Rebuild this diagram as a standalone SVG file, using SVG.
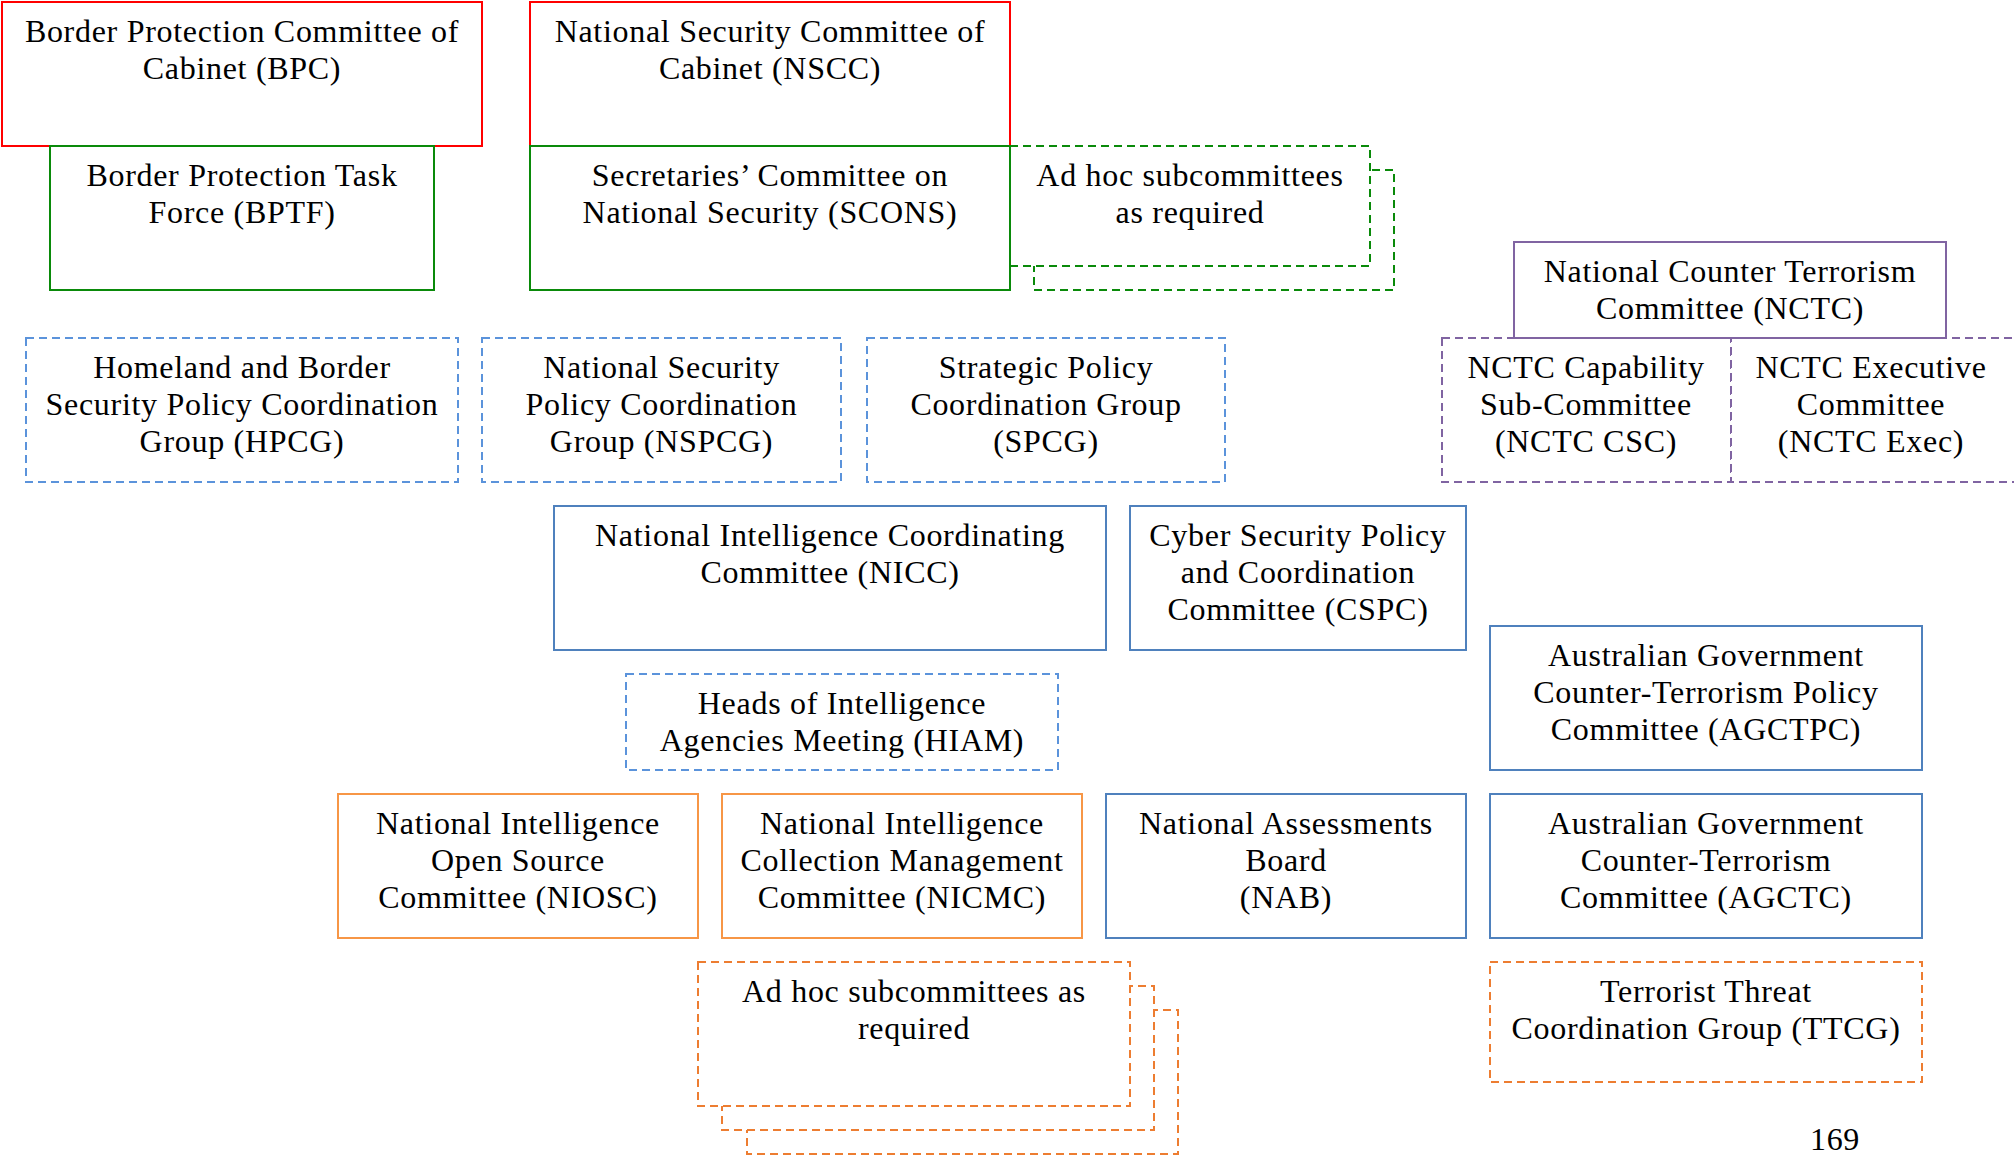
<svg xmlns="http://www.w3.org/2000/svg" width="2014" height="1155" viewBox="0 0 2014 1155">
<style>
rect{fill:#fff;stroke-width:2}
.red{stroke:#FF0000}
.grn{stroke:#0A8A0A}
.grnd{stroke:#0A8A0A;stroke-dasharray:8 5}
.blu{stroke:#4F81BD}
.blud{stroke:#5B93DB;stroke-dasharray:8 5}
.org{stroke:#F79646}
.orgd{stroke:#ED7D31;stroke-dasharray:8 5}
.pur{stroke:#8064A2}
.purd{stroke:#8064A2;stroke-dasharray:8 5}
text{font-family:"Liberation Serif","Times New Roman",serif;font-size:32px;letter-spacing:0.7px;fill:#000;text-anchor:middle}
</style>
<rect width="2014" height="1155" fill="#fff" stroke="none"/>
<g id="bpc"><rect class="red" x="2" y="2" width="480" height="144"/><text x="242" y="42">Border Protection Committee of</text><text x="242" y="79">Cabinet (BPC)</text></g>
<g id="nscc"><rect class="red" x="530" y="2" width="480" height="144"/><text x="770" y="42">National Security Committee of</text><text x="770" y="79">Cabinet (NSCC)</text></g>
<g id="bptf"><rect class="grn" x="50" y="146" width="384" height="144"/><text x="242" y="186">Border Protection Task</text><text x="242" y="223">Force (BPTF)</text></g>
<g id="adhoc-green"><rect class="grnd" x="1034" y="170" width="360" height="120"/><rect class="grnd" x="1010" y="146" width="360" height="120"/><text x="1190" y="186">Ad hoc subcommittees</text><text x="1190" y="223">as required</text></g>
<g id="scons"><rect class="grn" x="530" y="146" width="480" height="144"/><text x="770" y="186">Secretaries’ Committee on</text><text x="770" y="223">National Security (SCONS)</text></g>
<g id="hpcg"><rect class="blud" x="26" y="338" width="432" height="144"/><text x="242" y="378">Homeland and Border</text><text x="242" y="415">Security Policy Coordination</text><text x="242" y="452">Group (HPCG)</text></g>
<g id="nspcg"><rect class="blud" x="482" y="338" width="359" height="144"/><text x="661.5" y="378">National Security</text><text x="661.5" y="415">Policy Coordination</text><text x="661.5" y="452">Group (NSPCG)</text></g>
<g id="spcg"><rect class="blud" x="867" y="338" width="358" height="144"/><text x="1046" y="378">Strategic Policy</text><text x="1046" y="415">Coordination Group</text><text x="1046" y="452">(SPCG)</text></g>
<g id="nctc-csc"><rect class="purd" x="1442" y="338" width="289" height="144"/><text x="1586" y="378">NCTC Capability</text><text x="1586" y="415">Sub-Committee</text><text x="1586" y="452">(NCTC CSC)</text></g>
<g id="nctc-exec"><rect class="purd" x="1731" y="338" width="300" height="144"/><text x="1871" y="378">NCTC Executive</text><text x="1871" y="415">Committee</text><text x="1871" y="452">(NCTC Exec)</text></g>
<g id="nctc"><rect class="pur" x="1514" y="242" width="432" height="96"/><text x="1730" y="282">National Counter Terrorism</text><text x="1730" y="319">Committee (NCTC)</text></g>
<g id="nicc"><rect class="blu" x="554" y="506" width="552" height="144"/><text x="830" y="546">National Intelligence Coordinating</text><text x="830" y="583">Committee (NICC)</text></g>
<g id="cspc"><rect class="blu" x="1130" y="506" width="336" height="144"/><text x="1298" y="546">Cyber Security Policy</text><text x="1298" y="583">and Coordination</text><text x="1298" y="620">Committee (CSPC)</text></g>
<g id="hiam"><rect class="blud" x="626" y="674" width="432" height="96"/><text x="842" y="714">Heads of Intelligence</text><text x="842" y="751">Agencies Meeting (HIAM)</text></g>
<g id="agctpc"><rect class="blu" x="1490" y="626" width="432" height="144"/><text x="1706" y="666">Australian Government</text><text x="1706" y="703">Counter-Terrorism Policy</text><text x="1706" y="740">Committee (AGCTPC)</text></g>
<g id="niosc"><rect class="org" x="338" y="794" width="360" height="144"/><text x="518" y="834">National Intelligence</text><text x="518" y="871">Open Source</text><text x="518" y="908">Committee (NIOSC)</text></g>
<g id="nicmc"><rect class="org" x="722" y="794" width="360" height="144"/><text x="902" y="834">National Intelligence</text><text x="902" y="871">Collection Management</text><text x="902" y="908">Committee (NICMC)</text></g>
<g id="nab"><rect class="blu" x="1106" y="794" width="360" height="144"/><text x="1286" y="834">National Assessments</text><text x="1286" y="871">Board</text><text x="1286" y="908">(NAB)</text></g>
<g id="agctc"><rect class="blu" x="1490" y="794" width="432" height="144"/><text x="1706" y="834">Australian Government</text><text x="1706" y="871">Counter-Terrorism</text><text x="1706" y="908">Committee (AGCTC)</text></g>
<g id="adhoc-orange"><rect class="orgd" x="747" y="1010" width="431" height="144"/><rect class="orgd" x="722" y="986" width="432" height="144"/><rect class="orgd" x="698" y="962" width="432" height="144"/><text x="914" y="1002">Ad hoc subcommittees as</text><text x="914" y="1039">required</text></g>
<g id="ttcg"><rect class="orgd" x="1490" y="962" width="432" height="120"/><text x="1706" y="1002">Terrorist Threat</text><text x="1706" y="1039">Coordination Group (TTCG)</text></g>
<g id="connectors"></g>
<text x="1835" y="1150">169</text>
</svg>
